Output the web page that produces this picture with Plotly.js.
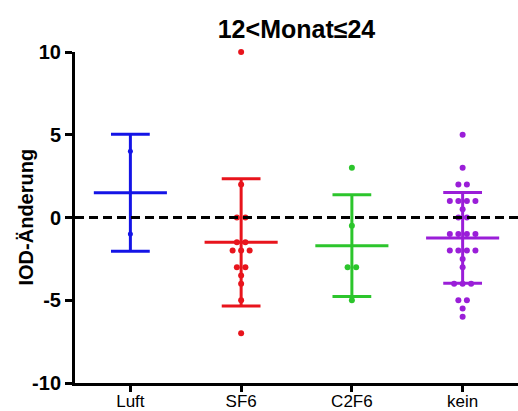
<!DOCTYPE html>
<html>
<head>
<meta charset="utf-8">
<script src="https://cdn.plot.ly/plotly-3.0.1.min.js"></script>
<style>html,body{margin:0;padding:0;background:#fff;}#chart{width:518px;height:411px;}</style>
</head>
<body>
<div id="chart"></div>
<script>
const categories = ["Luft", "SF6", "C2F6", "kein"];
const colors = ["#1414e6", "#e8141c", "#2cc52c", "#9a1ed8"];
const luft = [4, -1];
const sf6 = [10, 2, 0, 0, -1.5, -1.5, -2, -2, -2, -3, -3, -3.5, -4, -5, -7];
const c2f6 = [3, -0.5, -3, -3, -5];
const kein = [5, 3, 2, 2, 1, 1, 1, 1, 0.5, 0, 0, -1, -1, -1, -1, -2, -2, -2, -2, -2.5, -3, -4, -4, -4, -5, -5, -5.5, -6];
const groups = [luft, sf6, c2f6, kein];
const yTicks = [-10, -5, 0, 5, 10];
const yTickText = ["-10", "-5", "0", "5", "10"];
const yTitle = "IOD-Änderung";
const chartTitle = "12<Monat≤24";

function mean(a){ return a.reduce((s,v)=>s+v,0)/a.length; }
function sd(a){ const m=mean(a); return Math.sqrt(a.reduce((s,v)=>s+(v-m)*(v-m),0)/(a.length-1)); }

// simple swarm layout: identical values spread symmetrically
function swarm(vals, center, step){
  const counts = {}, idx = {};
  vals.forEach(v => counts[v] = (counts[v]||0)+1);
  return vals.map(v => {
    idx[v] = (idx[v]||0);
    const n = counts[v], i = idx[v]++;
    return center + (i - (n-1)/2) * step;
  });
}

const traces = [];
const meanHalf = 0.33, capHalf = 0.175, step = 0.077;
groups.forEach((g, i) => {
  const m = mean(g), s = sd(g);
  const xs = [i-meanHalf, i+meanHalf, null, i, i, null, i-capHalf, i+capHalf, null, i-capHalf, i+capHalf];
  const ys = [m, m, null, m-s, m+s, null, m+s, m+s, null, m-s, m-s];
  traces.push({x: xs, y: ys, mode: 'lines', line: {color: colors[i], width: 3}, hoverinfo: 'skip', showlegend: false, cliponaxis: false});
});
groups.forEach((g, i) => {
  traces.push({x: swarm(g, i, step), y: g, mode: 'markers', marker: {color: colors[i], size: i===0 ? 5 : 6}, showlegend: false, cliponaxis: false});
});

const layout = {
  width: 518, height: 411,
  margin: {l: 75, r: 0, t: 52, b: 28},
  paper_bgcolor: '#fff', plot_bgcolor: '#fff',
  font: {family: 'Arial, "Liberation Sans", sans-serif', color: '#000'},
  title: {text: chartTitle, font: {size: 25, weight: 'bold', color: '#000'}, x: 0.5, xref: 'paper', y: 1 - 29/411, yref: 'container', yanchor: 'middle'},
  xaxis: {range: [-0.5, 3.5], tickvals: [0,1,2,3], ticktext: categories, showgrid: false, zeroline: false,
    showline: true, linecolor: '#000', linewidth: 3, ticks: 'outside', ticklen: 6, tickwidth: 3, tickcolor: '#000',
    ticklabelstandoff: -5,
    tickfont: {size: 17, color: '#000'}, fixedrange: true},
  yaxis: {range: [-10, 10], tickvals: yTicks, ticktext: yTickText, showgrid: false, zeroline: false,
    showline: true, linecolor: '#000', linewidth: 3, ticks: 'outside', ticklen: 7, tickwidth: 3, tickcolor: '#000',
    tickfont: {size: 20, weight: 'bold', color: '#000'}, fixedrange: true},
  annotations: [{text: yTitle, textangle: -90, showarrow: false, xref: 'paper', x: (25-75)/443, xanchor: 'center',
    yref: 'y', y: 0, yanchor: 'middle', font: {size: 20, weight: 'bold', color: '#000'}}],
  shapes: [{type: 'line', xref: 'paper', x0: 0, x1: 1, yref: 'y', y0: 0, y1: 0, line: {color: '#000', width: 3, dash: '9px,5px'}}]
};

Plotly.newPlot('chart', traces, layout, {displayModeBar: false, staticPlot: true});
</script>
</body>
</html>
